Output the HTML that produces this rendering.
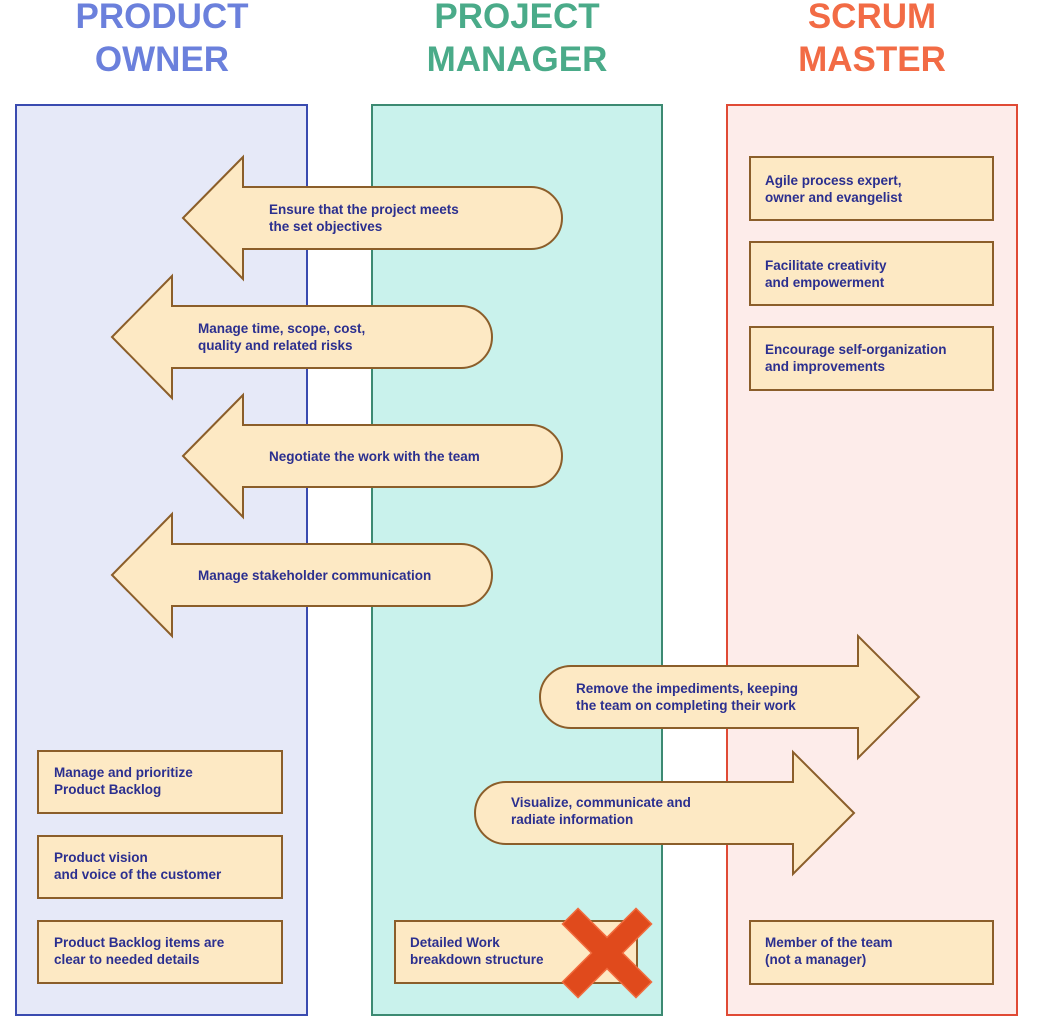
<!DOCTYPE html>
<html><head><style>
body{margin:0;background:#fff;}
svg text{font-family:"Liberation Sans",sans-serif;}
</style></head><body>
<svg width="1039" height="1022" viewBox="0 0 1039 1022" xmlns="http://www.w3.org/2000/svg">
<g font-weight="bold" font-size="35" text-anchor="middle">
<text x="162" y="28" fill="#6b80dc">PRODUCT</text>
<text x="162" y="71" fill="#6b80dc">OWNER</text>
<text x="517" y="28" fill="#4aab89">PROJECT</text>
<text x="517" y="71" fill="#4aab89">MANAGER</text>
<text x="872" y="28" fill="#f26b45">SCRUM</text>
<text x="872" y="71" fill="#f26b45">MASTER</text>
</g>
<rect x="16" y="105" width="291" height="910" fill="#e6e9f8" stroke="#3a4bb0" stroke-width="2"/>
<rect x="372" y="105" width="290" height="910" fill="#c9f2ec" stroke="#3c8a72" stroke-width="2"/>
<rect x="727" y="105" width="290" height="910" fill="#fdecea" stroke="#e04a35" stroke-width="2"/>
<g fill="#fde9c4" stroke="#8b5e2a" stroke-width="2">
<path d="M183 218 L243 157 L243 187 L531 187 A31 31 0 0 1 531 249 L243 249 L243 279 Z"/>
<path d="M112 337 L172 276 L172 306 L461 306 A31 31 0 0 1 461 368 L172 368 L172 398 Z"/>
<path d="M183 456 L243 395 L243 425 L531 425 A31 31 0 0 1 531 487 L243 487 L243 517 Z"/>
<path d="M112 575 L172 514 L172 544 L461 544 A31 31 0 0 1 461 606 L172 606 L172 636 Z"/>
<path d="M919 697 L858 636 L858 666 L571 666 A31 31 0 0 0 571 728 L858 728 L858 758 Z"/>
<path d="M854 813 L793 752 L793 782 L506 782 A31 31 0 0 0 506 844 L793 844 L793 874 Z"/>
<rect x="750" y="157" width="243" height="63"/>
<rect x="750" y="242" width="243" height="63"/>
<rect x="750" y="327" width="243" height="63"/>
<rect x="750" y="921" width="243" height="63"/>
<rect x="38" y="751" width="244" height="62"/>
<rect x="38" y="836" width="244" height="62"/>
<rect x="38" y="921" width="244" height="62"/>
<rect x="395" y="921" width="242" height="62"/>
</g>
<g font-weight="bold" font-size="13.5" fill="#2b2f8f">
<text x="269" y="214">Ensure that the project meets</text>
<text x="269" y="231">the set objectives</text>
<text x="198" y="333">Manage time, scope, cost,</text>
<text x="198" y="350">quality and related risks</text>
<text x="269" y="461">Negotiate the work with the team</text>
<text x="198" y="580">Manage stakeholder communication</text>
<text x="576" y="693">Remove the impediments, keeping</text>
<text x="576" y="710">the team on completing their work</text>
<text x="511" y="807">Visualize, communicate and</text>
<text x="511" y="824">radiate information</text>
<text x="765" y="185">Agile process expert,</text>
<text x="765" y="202">owner and evangelist</text>
<text x="765" y="270">Facilitate creativity</text>
<text x="765" y="287">and empowerment</text>
<text x="765" y="354">Encourage self-organization</text>
<text x="765" y="371">and improvements</text>
<text x="765" y="947">Member of the team</text>
<text x="765" y="964">(not a manager)</text>
<text x="54" y="777">Manage and prioritize</text>
<text x="54" y="794">Product Backlog</text>
<text x="54" y="862">Product vision</text>
<text x="54" y="879">and voice of the customer</text>
<text x="54" y="947">Product Backlog items are</text>
<text x="54" y="964">clear to needed details</text>
<text x="410" y="947">Detailed Work</text>
<text x="410" y="964">breakdown structure</text>
</g>
<g transform="translate(607,953) rotate(45)" fill="#e04a1c" stroke="#f06a3c" stroke-width="1.5">
<path d="M-11 -52 H11 V-11 H52 V11 H11 V52 H-11 V11 H-52 V-11 H-11 Z"/>
</g>
</svg>
</body></html>
